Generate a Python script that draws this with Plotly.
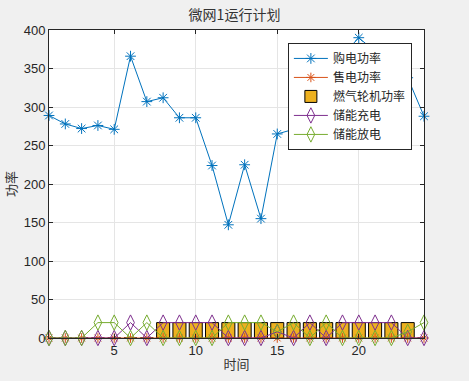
import plotly.graph_objects as go

hours = list(range(1, 25))
buy_power = [289, 278, 272, 276, 271, 366, 307, 312, 286, 286, 224, 147,
             225, 155, 265, 271, 310, 340, 367, 390, 372, 355, 338, 288]
sell_power = [0] * 24
gt_power = [0, 0, 0, 0, 0, 0, 0, 20, 20, 20, 20, 20,
            20, 20, 20, 20, 20, 20, 20, 20, 20, 20, 20, 0]
charge_power = [0, 0, 0, 0, 0, 20, 0, 20, 20, 20, 20, 0,
                0, 0, 8, 0, 20, 0, 20, 20, 20, 20, 0, 0]
discharge_power = [0, 0, 0, 20, 20, 0, 20, 0, 0, 0, 0, 20,
                   20, 20, 8, 20, 0, 20, 0, 0, 0, 0, 8, 20]
y_ticks = [0, 50, 100, 150, 200, 250, 300, 350, 400]
x_ticks = [5, 10, 15, 20]

CJK = "Noto Sans CJK SC"
NUM = "Liberation Sans, Arial"

fig = go.Figure()
fig.add_trace(go.Scatter(x=hours, y=buy_power, name="购电功率", mode="lines+markers",
                         line=dict(color="#0072BD", width=1),
                         marker=dict(symbol="asterisk-open", size=9, color="#0072BD",
                                     line=dict(color="#0072BD", width=1)),
                         cliponaxis=False))
fig.add_trace(go.Scatter(x=hours, y=sell_power, name="售电功率", mode="lines+markers",
                         line=dict(color="#D95319", width=1),
                         marker=dict(symbol="asterisk-open", size=8, color="#D95319",
                                     line=dict(color="#D95319", width=1)),
                         cliponaxis=False))
fig.add_trace(go.Bar(x=hours, y=gt_power, name="燃气轮机功率", width=0.8,
                     marker=dict(color="#EDB120", line=dict(color="#000000", width=1))))
fig.add_trace(go.Scatter(x=hours, y=charge_power, name="储能充电", mode="lines+markers",
                         line=dict(color="#7E2F8E", width=1),
                         marker=dict(symbol="diamond-tall-open", size=11, color="#7E2F8E",
                                     line=dict(color="#7E2F8E", width=1)),
                         cliponaxis=False))
fig.add_trace(go.Scatter(x=hours, y=discharge_power, name="储能放电", mode="lines+markers",
                         line=dict(color="#77AC30", width=1),
                         marker=dict(symbol="diamond-tall-open", size=11, color="#77AC30",
                                     line=dict(color="#77AC30", width=1)),
                         cliponaxis=False))

axis_common = dict(showline=True, linecolor="#262626", linewidth=1, mirror="ticks",
                   ticks="inside", ticklen=4, tickcolor="#262626",
                   showgrid=True, gridcolor="#e5e5e5", gridwidth=1, zeroline=False,
                   tickfont=dict(family=NUM, size=13, color="#262626"))

fig.update_layout(
    width=469, height=381,
    margin=dict(l=49, r=45, t=30, b=43),
    paper_bgcolor="#f0f0f0", plot_bgcolor="#ffffff",
    title=dict(text="微网1运行计划", x=0.5, xanchor="center", y=1 - 15 / 381, yanchor="middle",
               font=dict(family=CJK, size=14, color="#333333")),
    showlegend=True,
    legend=dict(x=0.637, y=0.958, xanchor="left", yanchor="top",
                bgcolor="#ffffff", bordercolor="#262626", borderwidth=1,
                font=dict(family=CJK, size=12, color="#262626"),
                itemwidth=34, tracegroupgap=0),
    bargap=0.2,
)
fig.update_xaxes(range=[1, 24], tickvals=x_ticks,
                 title=dict(text="时间", standoff=3, font=dict(family=CJK, size=13, color="#333333")),
                 **axis_common)
fig.update_yaxes(range=[0, 400], tickvals=y_ticks,
                 title=dict(text="功率", standoff=4, font=dict(family=CJK, size=13, color="#333333")),
                 **axis_common)

fig.write_html("out.html", config={"displayModeBar": False},
               post_script="document.body.style.margin='0';document.body.style.overflow='hidden';")
